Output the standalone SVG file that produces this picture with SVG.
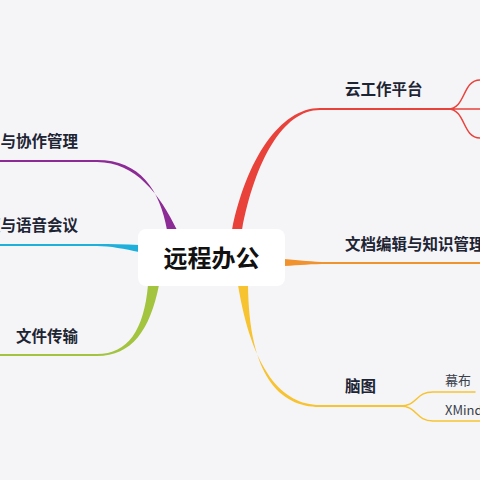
<svg xmlns="http://www.w3.org/2000/svg" width="480" height="480" viewBox="0 0 480 480">
<style>
.lbl{font-family:"Noto Sans CJK SC","Liberation Sans",sans-serif;font-weight:bold;font-size:15.5px;fill:#1d2433}
.sub{font-family:"Noto Sans CJK SC","Liberation Sans",sans-serif;font-size:13px;fill:#3a3f4a}
.ln{fill:none;stroke-linecap:round}
</style>
<rect width="480" height="480" fill="#f5f5f8"/>
<g id="connectors">
  <path d="M232,230 C246,160 280,108 320,108 L320,110 C283,110 255,161 242,230 Z" fill="#e8423b"/>
  <path class="ln" d="M320,109 L450,109" stroke="#e8423b" stroke-width="2"/>
  <path class="ln" d="M448,109 C466,109 462,80 480,80 M448,109 L480,109 M448,109 C466,109 462,138 480,138" stroke="#e8423b" stroke-width="1.5"/>
  <path d="M284,259 C300,260 312,262 327,262 L327,264 C312,264 300,265 284,266 Z" fill="#f0922e"/>
  <path class="ln" d="M327,263 L480,263" stroke="#f0922e" stroke-width="2"/>
  <path d="M238,285 C252,370 282,405 320,405 L320,407 C279,407 249,375 248,285 Z" fill="#f7c331"/>
  <path class="ln" d="M320,406 L402,406" stroke="#f7c331" stroke-width="2"/>
  <path class="ln" d="M400,406 C418,406 415,392 433,392 L475,392 M400,406 C418,406 415,421 433,421 L480,421" stroke="#f7c331" stroke-width="1.5"/>
  <path d="M167,230 C160,190 140,160 97,160 L97,162 C136,162 160,195 177,230 Z" fill="#8c2a96"/>
  <path class="ln" d="M97,161 L0,161" stroke="#8c2a96" stroke-width="2"/>
  <path d="M139,245 C125,244 110,244 97,244 L97,246 C110,246 125,249 139,252 Z" fill="#1eb0db"/>
  <path class="ln" d="M97,245 L0,245" stroke="#1eb0db" stroke-width="2"/>
  <path d="M148,285 C144,330 128,354 97,354 L97,356 C132,356 150,330 159,285 Z" fill="#a2c43f"/>
  <path class="ln" d="M97,355 L0,355" stroke="#a2c43f" stroke-width="2"/>
</g>
<g id="center">
  <rect x="138" y="229" width="147" height="57" rx="8" fill="#ffffff"/>
  <text x="211.5" y="267" text-anchor="middle" font-family="'Noto Sans CJK SC','Liberation Sans',sans-serif" font-weight="bold" font-size="24" fill="#111111">远程办公</text>
</g>
<g id="n-cloud"><text class="lbl" x="345" y="95">云工作平台</text></g>
<g id="n-doc"><text class="lbl" x="345" y="250">文档编辑与知识管理</text></g>
<g id="n-mind"><text class="lbl" x="345" y="392">脑图</text></g>
<g id="n-mubu"><text class="sub" x="445" y="385">幕布</text></g>
<g id="n-xmind"><text class="sub" x="445" y="415">XMind</text></g>
<g id="n-task"><text class="lbl" x="78" y="147" text-anchor="end">项目与协作管理</text></g>
<g id="n-video"><text class="lbl" x="78" y="231" text-anchor="end">视频与语音会议</text></g>
<g id="n-file"><text class="lbl" x="78" y="342" text-anchor="end">文件传输</text></g>
</svg>
